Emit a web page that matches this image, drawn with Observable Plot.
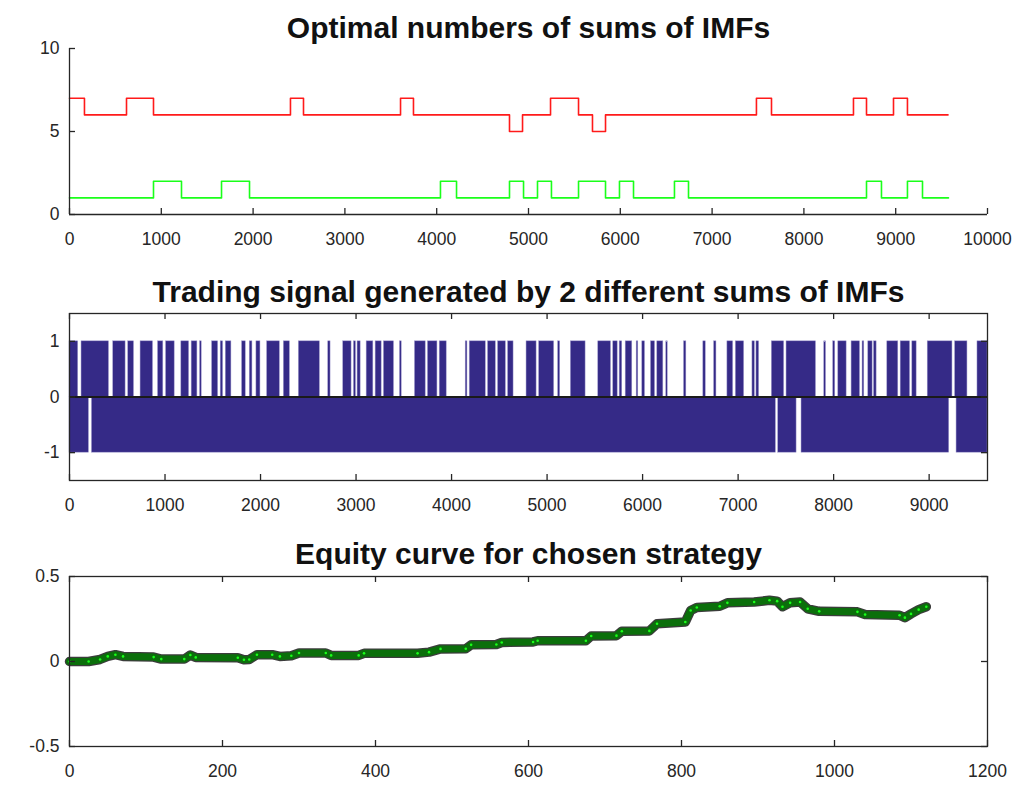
<!DOCTYPE html>
<html><head><meta charset="utf-8">
<script src="https://cdn.jsdelivr.net/npm/d3@7"></script>
<script src="https://cdn.jsdelivr.net/npm/@observablehq/plot@0.6"></script>
<style>
body{margin:0;background:#fff;width:1026px;height:793px;overflow:hidden;font-family:"Liberation Sans",Arial,sans-serif}
#c{position:relative;width:1026px;height:793px}
#c svg{position:absolute;left:0}
</style></head><body><div id="c"></div>
<script>
// ---------- Panel 1: optimal numbers of sums of IMFs (step series) ----------
const titles = ["Optimal numbers of sums of IMFs", "Trading signal generated by 2 different sums of IMFs", "Equity curve for chosen strategy"];
const redChangeX = [0, 163, 621, 915, 2407, 2549, 3606, 3747, 4793, 4935, 5240, 5545, 5697, 5839, 7483, 7647, 8540, 8682, 8976, 9128, 9570];
const redLevel   = [7, 6, 7, 6, 7, 6, 7, 6, 5, 6, 7, 6, 5, 6, 7, 6, 7, 6, 7, 6, 6];
const greenChangeX = [0, 915, 1220, 1656, 1961, 4041, 4216, 4793, 4946, 5098, 5250, 5545, 5839, 5991, 6144, 6590, 6743, 8682, 8845, 9128, 9292, 9575];
const greenLevel   = [1, 2, 1, 2, 1, 2, 1, 2, 1, 2, 1, 2, 1, 2, 1, 2, 1, 2, 1, 2, 1, 1];
const topXTicks = [0, 1000, 2000, 3000, 4000, 5000, 6000, 7000, 8000, 9000, 10000];
const topYTicks = [0, 5, 10];

// ---------- Panel 2: trading signal (+1 runs and -1 runs) ----------
const upStart = [0,126,458,615,744,927,1011,1171,1279,1367,1493,1583,1636,1807,1887,1957,2069,2244,2401,2709,2866,2978,3016,3111,3205,3292,3460,3617,3753,3876,4148,4190,4382,4487,4592,4785,4917,5116,5249,5536,5693,5760,5823,5938,5997,6088,6154,6248,6434,6636,6749,6888,6976,7150,7192,7353,7507,7902,7996,8049,8188,8303,8363,8423,8562,8702,8824,8985,9272,9506];
const upEnd   = [91,413,587,675,874,982,1101,1252,1339,1384,1556,1608,1695,1845,1915,1999,2202,2307,2621,2733,2953,2999,3048,3181,3268,3397,3478,3729,3852,3949,4166,4358,4463,4568,4649,4890,5074,5137,5403,5669,5739,5787,5892,5955,6025,6130,6217,6263,6458,6661,6773,6948,7063,7175,7220,7482,7815,7920,8017,8136,8276,8321,8408,8450,8677,8800,8869,9244,9401,9611];
const downStart = [0, 235, 7420, 7664, 9287];
const downEnd   = [203, 7395, 7612, 9210, 9611];
const midXTicks = [0, 1000, 2000, 3000, 4000, 5000, 6000, 7000, 8000, 9000];
const midYTicks = [-1, 0, 1];

// ---------- Panel 3: equity curve ----------
const eqX = [0,25,40,50,60,70,110,120,150,158,165,220,228,235,245,265,275,290,300,335,342,378,385,455,470,485,518,525,558,565,606,612,675,682,715,722,758,768,805,812,820,850,860,895,915,925,932,942,955,965,980,1030,1040,1085,1092,1100,1110,1120];
const eqY = [0,0,0.012,0.03,0.04,0.03,0.026,0.014,0.014,0.038,0.024,0.022,0.01,0.012,0.04,0.04,0.03,0.034,0.05,0.05,0.036,0.036,0.048,0.048,0.055,0.074,0.075,0.098,0.1,0.112,0.115,0.122,0.122,0.15,0.152,0.178,0.18,0.222,0.232,0.3,0.318,0.325,0.345,0.35,0.36,0.355,0.322,0.345,0.35,0.31,0.295,0.292,0.276,0.272,0.258,0.28,0.305,0.322];
const botXTicks = [0, 200, 400, 600, 800, 1000, 1200];
const botYTicks = [-0.5, 0, 0.5];

const AX = "#262626";
const W = 1026;

function panel({top, height, mt, mb, xDomain, yDomain, xTicks, yTicks, box, marks, title, titleDy}) {
  const mL = 69, mR = 39;
  const innerH = height - mt - mb, innerW = W - mL - mR;
  const tick = 6;
  const frameMarks = box
    ? [Plot.frame({stroke: AX, strokeWidth: 1.3})]
    : [Plot.ruleX([xDomain[0]], {stroke: AX, strokeWidth: 1.3}), Plot.ruleY([yDomain[0]], {stroke: AX, strokeWidth: 1.3})];
  const tickMarks = [
    Plot.ruleX(xTicks, {x: d => d, insetTop: innerH - tick, stroke: AX, strokeWidth: 1.3}),
    Plot.ruleY(yTicks, {y: d => d, insetRight: innerW - tick, stroke: AX, strokeWidth: 1.3})
  ];
  if (box) {
    tickMarks.push(Plot.ruleX(xTicks, {x: d => d, insetBottom: innerH - tick, stroke: AX, strokeWidth: 1.3}));
    tickMarks.push(Plot.ruleY(yTicks, {y: d => d, insetLeft: innerW - tick, stroke: AX, strokeWidth: 1.3}));
  }
  const svg = Plot.plot({
    width: W, height,
    marginLeft: mL, marginRight: mR, marginTop: mt, marginBottom: mb,
    style: {fontFamily: "'Liberation Sans', Arial, sans-serif", fontSize: "17px", color: AX, background: "transparent"},
    x: {domain: xDomain, axis: null},
    y: {domain: yDomain, axis: null},
    marks: [
      ...marks,
      ...frameMarks,
      ...tickMarks,
      Plot.axisX(xTicks, {label: null, tickSize: 0, tickPadding: 18, fontSize: 17.5, fill: AX, tickFormat: d => String(d)}),
      Plot.axisY(yTicks, {label: null, tickSize: 0, tickPadding: 10, fontSize: 17.5, fill: AX, tickFormat: d => String(d)}),
      Plot.text([title], {text: d => d, frameAnchor: "top", dy: titleDy, fontSize: 30, fontWeight: "bold", fill: "#111"})
    ]
  });
  svg.style.top = top + "px";
  document.getElementById("c").appendChild(svg);
}

// Panel 1
const red = redChangeX.map((x, i) => ({x, y: redLevel[i]}));
const green = greenChangeX.map((x, i) => ({x, y: greenLevel[i]}));
panel({
  top: 0, height: 262, mt: 48, mb: 48,
  xDomain: [0, 10000], yDomain: [0, 10], xTicks: topXTicks, yTicks: topYTicks, box: false,
  title: titles[0], titleDy: -32,
  marks: [
    Plot.line(red, {x: "x", y: "y", curve: "step-after", stroke: "#ff1a1a", strokeWidth: 1.6}),
    Plot.line(green, {x: "x", y: "y", curve: "step-after", stroke: "#1aff1a", strokeWidth: 1.6})
  ]
});

// Panel 2
const ups = upStart.map((s, i) => ({x1: s, x2: upEnd[i]}));
const downs = downStart.map((s, i) => ({x1: s, x2: downEnd[i]}));
panel({
  top: 262, height: 262, mt: 51, mb: 44,
  xDomain: [0, 9611], yDomain: [-1.5, 1.5], xTicks: midXTicks, yTicks: midYTicks, box: true,
  title: titles[1], titleDy: -33,
  marks: [
    Plot.rect(ups, {x1: "x1", x2: "x2", y1: 0, y2: 1, fill: "#352a87", stroke: "#9d97cc", strokeWidth: 0.5}),
    Plot.rect(downs, {x1: "x1", x2: "x2", y1: -1, y2: 0, fill: "#352a87", stroke: "#9d97cc", strokeWidth: 0.5}),
    Plot.ruleY([0], {stroke: "#1a1a1a", strokeWidth: 2})
  ]
});

// Panel 3
const eq = eqX.map((x, i) => ({x, y: eqY[i]}));
panel({
  top: 524, height: 269, mt: 52, mb: 47,
  xDomain: [0, 1200], yDomain: [-0.5, 0.5], xTicks: botXTicks, yTicks: botYTicks, box: true,
  title: titles[2], titleDy: -34,
  marks: [
    Plot.line(eq, {x: "x", y: "y", stroke: "#3c3c3c", strokeWidth: 9.5, strokeLinejoin: "round", strokeLinecap: "round"}),
    Plot.line(eq, {x: "x", y: "y", stroke: "#0b6f0b", strokeWidth: 7, strokeLinejoin: "round", strokeLinecap: "round"}),
    Plot.dot(eq, {x: "x", y: "y", r: 1.3, fill: "#1aff1a", stroke: "none"})
  ]
});
</script></body></html>
